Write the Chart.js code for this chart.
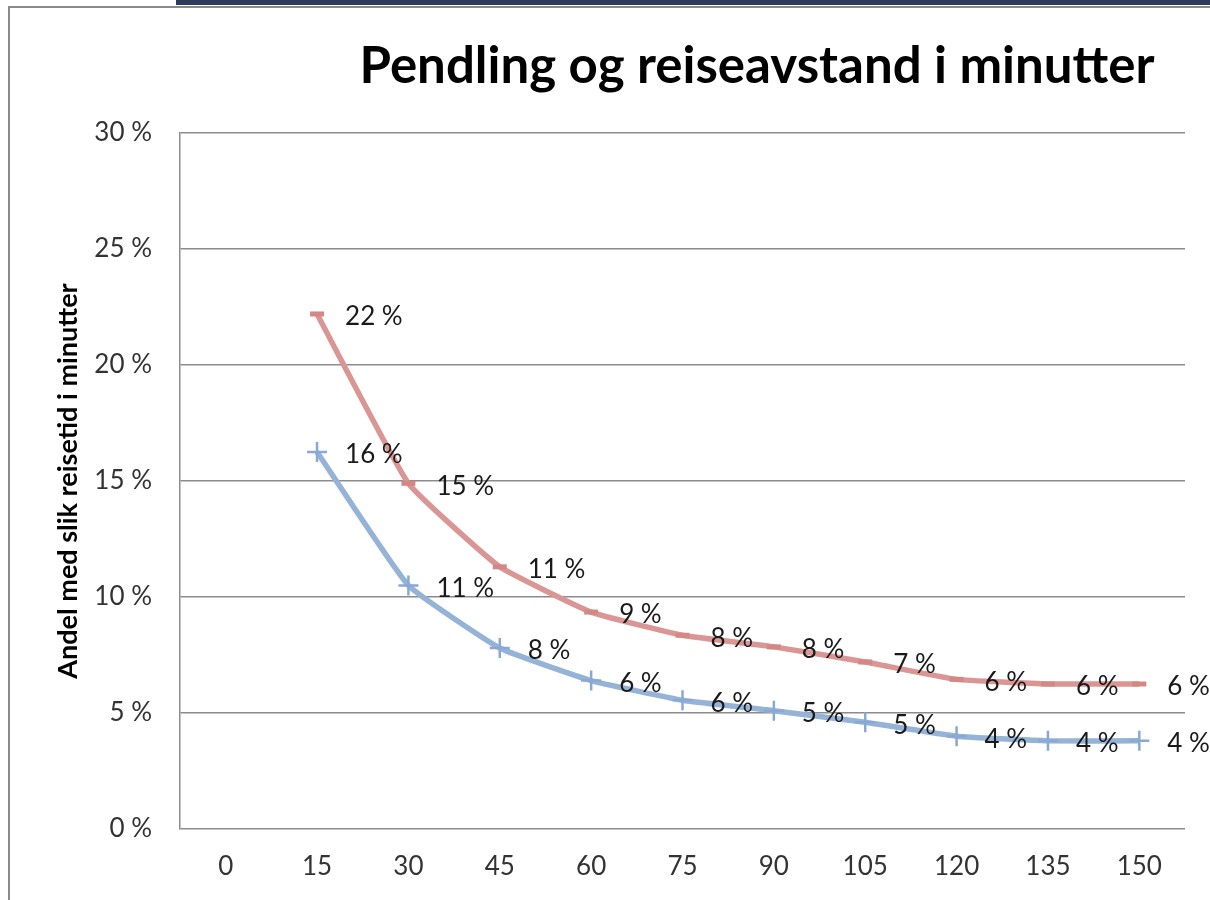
<!DOCTYPE html>
<html>
<head>
<meta charset="utf-8">
<script src="https://cdn.jsdelivr.net/npm/chart.js@4"></script>
<style>
  body { margin: 0; background: #fff; }
  #wrap { position: relative; width: 1210px; height: 900px; overflow: hidden; }
  #chart { position: absolute; left: 0; top: 0; }
  .frame { position: absolute; left: 8px; top: 6px; width: 1300px; height: 1000px;
           border-left: 2px solid #8a8a8a; border-top: 2px solid #8a8a8a; pointer-events: none; }
  .bar { position: absolute; left: 176px; top: 0; width: 1040px; height: 5px; background: #2f3b5e; }
</style>
</head>
<body>
<div id="wrap">
  <canvas id="chart" width="1210" height="900"></canvas>
  <div class="frame"></div>
  <div class="bar"></div>
</div>
<script>
// minutes of travel
const categories = ['0', '15', '30', '45', '60', '75', '90', '105', '120', '135', '150'];
// share of commuters, percent (red and blue series)
const redValues = [null, 22.2, 14.9, 11.3, 9.35, 8.35, 7.85, 7.2, 6.45, 6.25, 6.25];
const blueValues = [null, 16.25, 10.5, 7.8, 6.4, 5.55, 5.1, 4.6, 4.0, 3.8, 3.8];
const yTicks = [0, 5, 10, 15, 20, 25, 30];

const titleText = 'Pendling og reiseavstand i minutter';
const yTitle = 'Andel med slik reisetid i minutter';
const fontFam = 'Lato, "Open Sans", sans-serif';

// draws the chart title and the value labels next to each point
const labelPlugin = {
  id: 'labels',
  afterDatasetsDraw(chart) {
    const ctx = chart.ctx;
    ctx.save();
    ctx.fillStyle = '#1a1a1a';
    ctx.font = '26px ' + fontFam;
    ctx.textAlign = 'left';
    ctx.textBaseline = 'middle';
    chart.data.datasets.forEach((ds, i) => {
      const meta = chart.getDatasetMeta(i);
      meta.data.forEach((pt, j) => {
        const v = ds.data[j];
        if (v == null) return;
        ctx.fillText(Math.round(v) + ' %', pt.x + 28, pt.y + 3);
      });
    });
    ctx.font = 'bold 51px ' + fontFam;
    ctx.textAlign = 'center';
    ctx.fillStyle = '#000';
    ctx.fillText(titleText, 757, 67);
    ctx.restore();
  }
};

const ctx = document.getElementById('chart').getContext('2d');
new Chart(ctx, {
  type: 'line',
  data: {
    labels: categories,
    datasets: [{
      label: 'Rød',
      data: redValues,
      borderColor: '#d99694',
      backgroundColor: '#d99694',
      borderWidth: 5.5,
      tension: 0.12,
      pointStyle: 'line',
      pointRadius: 7,
      pointBorderWidth: 5,
      pointBorderColor: '#d48886'
    }, {
      label: 'Blå',
      data: blueValues,
      borderColor: '#95b3d7',
      backgroundColor: '#95b3d7',
      borderWidth: 5.5,
      tension: 0.12,
      pointStyle: 'cross',
      pointRadius: 10,
      pointBorderWidth: 2.5,
      pointBorderColor: '#8aa8d4'
    }]
  },
  options: {
    responsive: false,
    animation: false,
    layout: { padding: { top: 133, right: 25, left: 0, bottom: 0 } },
    plugins: {
      legend: { display: false },
      tooltip: { enabled: false },
      title: { display: false }
    },
    scales: {
      x: {
        offset: true,
        grid: { display: false, drawTicks: false },
        border: { display: false },
        ticks: {
          color: '#333',
          font: { family: fontFam, size: 26 },
          padding: 22,
          maxRotation: 0
        },
        afterFit(scale) { scale.height = 71; }
      },
      y: {
        min: 0,
        max: 30,
        afterBuildTicks(scale) { scale.ticks = yTicks.map(v => ({ value: v })); },
        grid: { color: '#8c8c8c', lineWidth: 1.5, drawTicks: false },
        border: { display: true, color: '#8c8c8c', width: 1.5 },
        ticks: {
          color: '#333',
          font: { family: fontFam, size: 26 },
          padding: 28,
          callback: v => v + ' %'
        },
        title: {
          display: true,
          text: yTitle,
          color: '#000',
          font: { family: fontFam, size: 27, weight: 'bold' },
          padding: { top: 52, bottom: 0 }
        },
        afterFit(scale) { scale.width = 180; }
      }
    }
  },
  plugins: [labelPlugin]
});
</script>
</body>
</html>
